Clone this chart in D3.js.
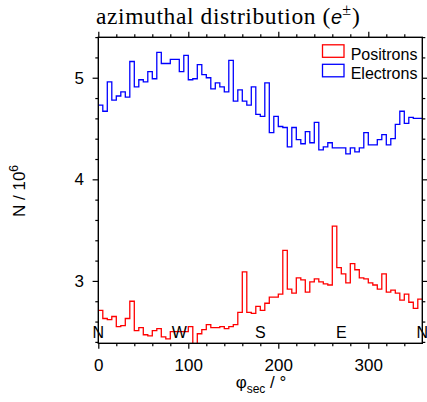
<!DOCTYPE html>
<html><head><meta charset="utf-8">
<script src="https://cdn.jsdelivr.net/npm/d3@7"></script>
<style>body{margin:0;background:#fff} svg{display:block}</style>
</head><body><svg id="c" width="427" height="402"></svg>
<script>
// ---- data ----
const binWidth = 5; // degrees
const electrons = [4.73,4.67,4.96,4.78,4.82,4.86,4.81,5.16,4.91,4.98,4.96,5.06,4.99,5.25,5.14,5.14,5.18,5.18,5.06,5.22,
  4.98,4.99,5.13,5.03,5.00,4.89,4.95,4.91,4.86,5.17,4.77,4.88,4.77,4.73,4.91,4.64,4.62,4.95,4.46,4.62,
  4.52,4.51,4.32,4.51,4.39,4.35,4.47,4.36,4.56,4.29,4.32,4.36,4.31,4.31,4.31,4.25,4.31,4.27,4.31,4.46,
  4.34,4.34,4.39,4.44,4.34,4.40,4.54,4.67,4.55,4.61,4.60,4.60];
const positrons = [2.71,2.63,2.62,2.65,2.55,2.56,2.63,2.80,2.51,2.54,2.47,2.46,2.51,2.53,2.45,2.43,2.50,2.50,2.50,2.50,
  2.55,2.30,2.48,2.52,2.57,2.54,2.54,2.55,2.53,2.55,2.57,2.69,3.09,2.69,2.68,2.75,2.71,2.78,2.84,2.84,
  2.87,3.30,2.92,2.88,3.03,3.01,2.89,2.99,3.02,2.99,2.97,2.96,3.54,3.13,3.07,2.98,3.17,3.11,3.03,3.02,
  2.98,2.96,2.92,3.07,2.89,2.91,2.88,2.81,2.87,2.79,2.73,2.82];
const xMajorTicks = [0,100,200,300];
const yMajorTicks = [3,4,5];
const compassLabels = ["N","W","S","E","N"];
const compassAngles = [0,90,180,270,360];
const seriesNames = ["Positrons","Electrons"];
const seriesColors = ["#ff0000","#0000ff"];

// ---- layout ----
const svg = d3.select("#c");
const L = 98.3, R = 422.3, T = 37.3, B = 343.3;
const x = d3.scaleLinear().domain([0,360]).range([L,R]);
const y = d3.scaleLinear().domain([2.386,5.398]).range([B,T]);
const sans = "'Liberation Sans', Arial, sans-serif";

svg.append("defs").append("clipPath").attr("id","clip")
  .append("rect").attr("x",L).attr("y",T).attr("width",R-L).attr("height",B-T);

function stepPoints(vals){
  const pts = vals.map((v,i)=>[i*binWidth, v]);
  pts.push([vals.length*binWidth, vals[vals.length-1]]);
  return pts;
}
const line = d3.line().x(d=>x(d[0])).y(d=>y(d[1])).curve(d3.curveStepAfter);

const gPlot = svg.append("g").attr("clip-path","url(#clip)");
[positrons, electrons].forEach((vals,k)=>{
  gPlot.append("path").attr("d", line(stepPoints(vals)))
    .attr("fill","none").attr("stroke",seriesColors[k]).attr("stroke-width",1.3);
});

// compass labels
svg.append("g").selectAll("text").data(compassLabels).join("text")
  .attr("x",(d,i)=>x(compassAngles[i])).attr("y",338)
  .attr("text-anchor","middle").attr("font-family",sans).attr("font-size",16)
  .text(d=>d);

// axes
const xMinor = d3.range(0,361,20).filter(v=>!xMajorTicks.includes(v) && v!==360);
const yMinor = d3.range(2.4,5.4,0.2).map(v=>+v.toFixed(1)).filter(v=>!yMajorTicks.includes(v));
function styleAxis(g){ g.select(".domain").remove(); g.selectAll("line").attr("stroke","#000").attr("stroke-width",1.2); }

svg.append("g").attr("transform",`translate(0,${B})`)
  .call(d3.axisBottom(x).tickValues(xMinor).tickSize(3).tickFormat("")).call(styleAxis);
svg.append("g").attr("transform",`translate(0,${B})`)
  .call(d3.axisBottom(x).tickValues(xMajorTicks).tickSize(5.5).tickPadding(10).tickFormat(d3.format("d")))
  .call(styleAxis)
  .selectAll("text").attr("font-family",sans).attr("font-size",17).attr("fill","#000");
svg.append("g").attr("transform",`translate(0,${T})`)
  .call(d3.axisTop(x).tickValues(xMinor).tickSize(3).tickFormat("")).call(styleAxis);
svg.append("g").attr("transform",`translate(0,${T})`)
  .call(d3.axisTop(x).tickValues(xMajorTicks).tickSize(5.5).tickFormat("")).call(styleAxis);

svg.append("g").attr("transform",`translate(${L},0)`)
  .call(d3.axisLeft(y).tickValues(yMinor).tickSize(3).tickFormat("")).call(styleAxis);
svg.append("g").attr("transform",`translate(${L},0)`)
  .call(d3.axisLeft(y).tickValues(yMajorTicks).tickSize(5.7).tickPadding(8.6).tickFormat(d3.format("d")))
  .call(styleAxis)
  .selectAll("text").attr("font-family",sans).attr("font-size",17).attr("fill","#000");
svg.append("g").attr("transform",`translate(${R},0)`)
  .call(d3.axisRight(y).tickValues(yMinor).tickSize(3).tickFormat("")).call(styleAxis);
svg.append("g").attr("transform",`translate(${R},0)`)
  .call(d3.axisRight(y).tickValues(yMajorTicks).tickSize(5.7).tickFormat("")).call(styleAxis);

// frame
svg.append("rect").attr("x",L).attr("y",T).attr("width",R-L).attr("height",B-T)
  .attr("fill","none").attr("stroke","#000").attr("stroke-width",1.4);

// legend
const lg = svg.append("g");
seriesNames.forEach((n,i)=>{
  lg.append("rect").attr("x",322.5).attr("y",44.8+i*19.5).attr("width",21.5).attr("height",12.5)
    .attr("fill","#fff").attr("stroke",seriesColors[i]).attr("stroke-width",1.3);
  lg.append("text").attr("x",350.7).attr("y",60+i*19.2).attr("font-family",sans).attr("font-size",16)
    .text(n);
});

// title
const title = svg.append("text").attr("x",96).attr("y",24)
  .attr("font-family","'Liberation Serif', 'Times New Roman', serif").attr("font-size",23.5);
title.append("tspan").attr("letter-spacing",0.6).text("azimuthal distribution (");
title.append("tspan").attr("font-family",sans).attr("font-style","italic").attr("font-size",20).text("e");
title.append("tspan").attr("font-size",16).attr("dy",-9).text("\u00B1");
title.append("tspan").attr("dy",9).attr("dx",1).text(")");

// x axis title
const xt = svg.append("text").attr("x",261).attr("y",388).attr("text-anchor","middle")
  .attr("font-family",sans).attr("font-size",17);
xt.append("tspan").text("\u03C6");
xt.append("tspan").attr("font-size",12).attr("dy",5).text("sec");
xt.append("tspan").attr("dy",-5).text(" / \u00B0");

// y axis title
const yt = svg.append("text").attr("transform","translate(25,191) rotate(-90)").attr("text-anchor","middle")
  .attr("font-family",sans).attr("font-size",17);
yt.append("tspan").text("N / 10");
yt.append("tspan").attr("font-size",12).attr("dy",-7).text("6");
</script>
</body></html>
